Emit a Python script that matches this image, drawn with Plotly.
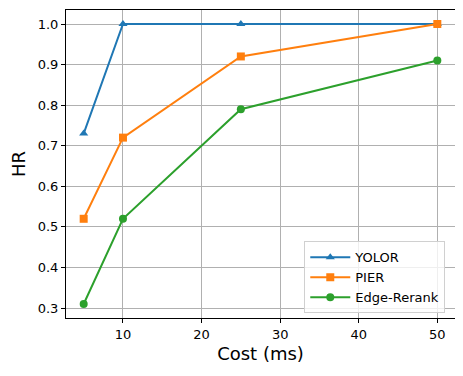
import plotly.graph_objects as go

cost = [5, 10, 25, 50]
yolor = [0.73, 1.0, 1.0, 1.0]
pier = [0.52, 0.72, 0.92, 1.0]
edge_rerank = [0.31, 0.52, 0.79, 0.91]

series = [
    ("YOLOR", yolor, "#1f77b4", "triangle-up"),
    ("PIER", pier, "#ff7f0e", "square"),
    ("Edge-Rerank", edge_rerank, "#2ca02c", "circle"),
]

fig = go.Figure()
for name, vals, color, sym in series:
    fig.add_trace(go.Scatter(
        x=cost, y=vals, name=name, mode="lines+markers",
        line=dict(color=color, width=2),
        marker=dict(symbol=sym, size=8, color=color),
    ))

axis_style = dict(
    showline=True, linecolor="black", linewidth=1, mirror=True,
    showgrid=True, gridcolor="#b0b0b0", gridwidth=1,
    ticks="outside", ticklen=4, tickcolor="black",
    tickfont=dict(size=13, color="black"), zeroline=False,
    automargin=False,
)

fig.update_xaxes(range=[2.75, 52.25], tickvals=[10, 20, 30, 40, 50],
                 title=dict(text="Cost (ms)", font=dict(size=18, color="black"), standoff=6),
                 **axis_style)
fig.update_yaxes(range=[0.2755, 1.0345], dtick=0.1, tickformat=".1f",
                 title=dict(text="HR", font=dict(size=18, color="black"), standoff=8),
                 **axis_style)

# page body has an 8px margin, so shrink the figure to fit the window
fig.update_layout(
    width=455, height=368,
    margin=dict(l=58, r=8, t=2, b=58),
    plot_bgcolor="white", paper_bgcolor="white",
    font=dict(family="DejaVu Sans", color="black"),
    legend=dict(x=0.975, y=0.015, xanchor="right", yanchor="bottom",
                bgcolor="rgba(255,255,255,0.8)", bordercolor="#d0d0d0", borderwidth=1,
                font=dict(size=13), tracegroupgap=0, itemwidth=40),
)

fig.write_html("out.html")
